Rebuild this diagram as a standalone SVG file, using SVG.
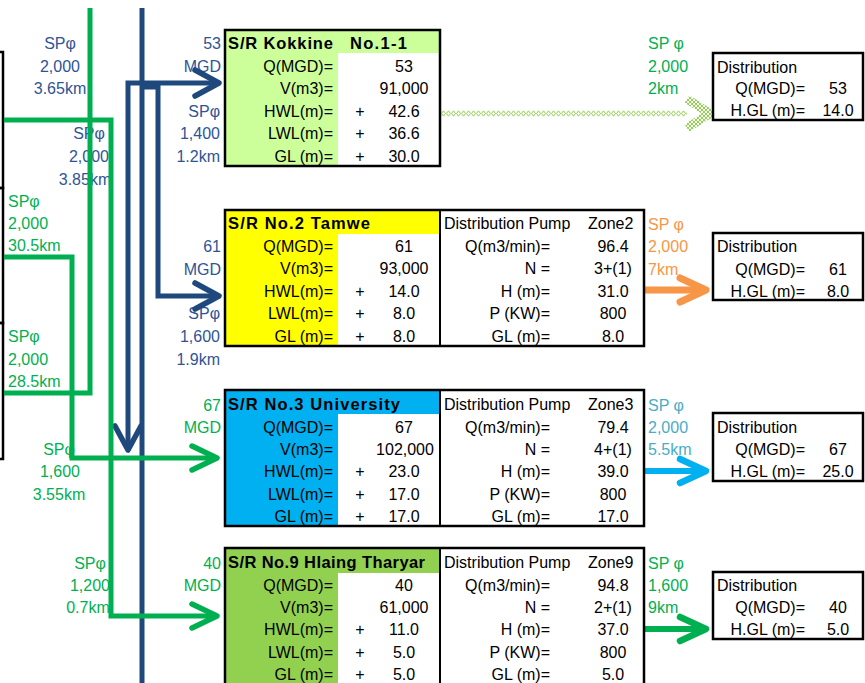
<svg xmlns="http://www.w3.org/2000/svg" width="865" height="683" viewBox="0 0 865 683">
<style>
text{font-family:"Liberation Sans",Arial,sans-serif;font-size:16px;fill:#000}
.e{text-anchor:end}.m{text-anchor:middle}
.h{font-weight:bold;font-size:16.5px}
.lb{fill:#2F5496}.lg{fill:#00B050}.lo{fill:#F79646}.lc{fill:#4BACC6}
.bd{fill:none;stroke:#000;stroke-width:2.5}
.dv{stroke:#000;stroke-width:2}
.pb{fill:none;stroke:#1F497D;stroke-width:5}
.pg{fill:none;stroke:#00B050;stroke-width:5}
</style>
<defs>
<marker id="mB" markerUnits="userSpaceOnUse" viewBox="-32 -20 40 40" markerWidth="40" markerHeight="40" refX="0" refY="0" orient="auto" overflow="visible"><path d="M-24,-13 L0,0 L-24,13" fill="none" stroke="#1F497D" stroke-width="5.5" stroke-linecap="round" stroke-linejoin="round"/></marker>
<marker id="mG" markerUnits="userSpaceOnUse" viewBox="-32 -20 40 40" markerWidth="40" markerHeight="40" refX="0" refY="0" orient="auto" overflow="visible"><path d="M-25,-12 L0,0 L-25,12" fill="none" stroke="#00B050" stroke-width="5.5" stroke-linecap="round" stroke-linejoin="round"/></marker>
<marker id="mO" markerUnits="userSpaceOnUse" viewBox="-32 -20 40 40" markerWidth="40" markerHeight="40" refX="0" refY="0" orient="auto" overflow="visible"><path d="M-26,-12 L0,0 L-26,12" fill="none" stroke="#F79646" stroke-width="7" stroke-linecap="round" stroke-linejoin="round"/></marker>
<marker id="mC" markerUnits="userSpaceOnUse" viewBox="-32 -20 40 40" markerWidth="40" markerHeight="40" refX="0" refY="0" orient="auto" overflow="visible"><path d="M-26,-12 L0,0 L-26,12" fill="none" stroke="#00B0F0" stroke-width="6.5" stroke-linecap="round" stroke-linejoin="round"/></marker>
<marker id="mG2" markerUnits="userSpaceOnUse" viewBox="-32 -20 40 40" markerWidth="40" markerHeight="40" refX="0" refY="0" orient="auto" overflow="visible"><path d="M-26,-12 L0,0 L-26,12" fill="none" stroke="#00B050" stroke-width="6.5" stroke-linecap="round" stroke-linejoin="round"/></marker>
<pattern id="chain" patternUnits="userSpaceOnUse" x="441" y="110" width="5" height="7"><path d="M0.5,3.5 L2.5,0.8 L4.5,3.5 L2.5,6.2 Z" fill="none" stroke="#92D050" stroke-width="1"/></pattern>
<pattern id="hatch" patternUnits="userSpaceOnUse" width="4" height="4"><path d="M0,0 L4,4 M4,0 L0,4" stroke="#92D050" stroke-width="1"/></pattern>
</defs>

<g id="left-boxes">
<rect x="-10" y="52" width="13" height="136" class="bd"/>
<rect x="-10" y="188" width="13" height="135" class="bd"/>
<rect x="-10" y="323" width="13" height="136" class="bd"/>
</g>

<g id="pipe-labels">
<text x="60" y="49" class="m lb">SPφ</text><text x="60" y="72" class="m lb">2,000</text><text x="60" y="94" class="m lb">3.65km</text>
<text x="89" y="139" class="m lb">SPφ</text><text x="89" y="162" class="m lb">2,000</text><text x="85" y="185" class="m lb">3.85km</text>
<text x="221" y="49" class="e lb">53</text><text x="221" y="72" class="e lb">MGD</text>
<text x="220" y="117" class="e lb">SPφ</text><text x="220" y="139" class="e lb">1,400</text><text x="220" y="162" class="e lb">1.2km</text>
<text x="221" y="252" class="e lb">61</text><text x="221" y="275" class="e lb">MGD</text>
<text x="220" y="319" class="e lb">SPφ</text><text x="220" y="342" class="e lb">1,600</text><text x="220" y="365" class="e lb">1.9km</text>
<text x="8" y="207" class="lg">SPφ</text><text x="8" y="229" class="lg">2,000</text><text x="8" y="251" class="lg">30.5km</text>
<text x="8" y="342" class="lg">SPφ</text><text x="8" y="365" class="lg">2,000</text><text x="8" y="387" class="lg">28.5km</text>
<text x="59" y="455" class="m lg">SPφ</text><text x="60" y="477" class="m lg">1,600</text><text x="59" y="500" class="m lg">3.55km</text>
<text x="90" y="569" class="m lg">SPφ</text><text x="90" y="591" class="m lg">1,200</text><text x="88" y="613" class="m lg">0.7km</text>
<text x="221" y="411" class="e lg">67</text><text x="221" y="433" class="e lg">MGD</text>
<text x="221" y="569" class="e lg">40</text><text x="221" y="591" class="e lg">MGD</text>
<text x="648" y="49" class="lg">SP φ</text><text x="648" y="72" class="lg">2,000</text><text x="648" y="94" class="lg">2km</text>
<text x="648" y="230" class="lo">SP φ</text><text x="648" y="252" class="lo">2,000</text><text x="648" y="275" class="lo">7km</text>
<text x="648" y="411" class="lc">SP φ</text><text x="648" y="433" class="lc">2,000</text><text x="648" y="455" class="lc">5.5km</text>
<text x="648" y="569" class="lg">SP φ</text><text x="648" y="591" class="lg">1,600</text><text x="648" y="613" class="lg">9km</text>
</g>

<g id="connectors">
<path class="pb" d="M142,8 V683"/>
<path class="pb" d="M142,83 H219" marker-end="url(#mB)"/>
<path class="pb" d="M142,83 H128 V450" marker-end="url(#mB)"/>
<path class="pb" d="M142,87 H158 V296 H219" marker-end="url(#mB)"/>
<path class="pg" d="M90,8 V393 H4"/>
<path class="pg" d="M4,120 H111 V616 H217" marker-end="url(#mG)"/>
<path class="pg" d="M4,257 H72 V458 H217" marker-end="url(#mG)"/>
<rect x="441" y="110" width="246" height="7" fill="url(#chain)"/>
<path d="M687,99 L710,113.5 L687,128" fill="none" stroke="url(#hatch)" stroke-width="9" stroke-linejoin="miter"/>
<path d="M645,290 H706" fill="none" stroke="#F79646" stroke-width="7" marker-end="url(#mO)"/>
<path d="M645,471 H706" fill="none" stroke="#00B0F0" stroke-width="6" marker-end="url(#mC)"/>
<path d="M645,629 H706" fill="none" stroke="#00B050" stroke-width="6" marker-end="url(#mG2)"/>
</g>

<g id="sr-kokkine">
<rect x="225" y="30" width="215" height="136" fill="#CCFF99"/>
<rect x="338" y="53" width="102" height="113" fill="#fff"/>
<rect x="225" y="30" width="215" height="136" class="bd"/>
<text x="228" y="49" class="h" textLength="105" lengthAdjust="spacing">S/R Kokkine</text>
<text x="350" y="49" class="h" textLength="57" lengthAdjust="spacing">No.1-1</text>
<text x="333" y="72" class="e">Q(MGD)=</text><text x="404" y="72" class="m">53</text>
<text x="333" y="94" class="e">V(m3)=</text><text x="404" y="94" class="m">91,000</text>
<text x="333" y="117" class="e">HWL(m)=</text><text x="360" y="117" class="m">+</text><text x="404" y="117" class="m">42.6</text>
<text x="333" y="139" class="e">LWL(m)=</text><text x="360" y="139" class="m">+</text><text x="404" y="139" class="m">36.6</text>
<text x="333" y="162" class="e">GL (m)=</text><text x="360" y="162" class="m">+</text><text x="404" y="162" class="m">30.0</text>
</g>

<g id="sr-tamwe">
<rect x="225" y="210" width="419" height="136" fill="#fff"/>
<rect x="225" y="210" width="215" height="24" fill="#FFFF00"/>
<rect x="225" y="234" width="113" height="112" fill="#FFFF00"/>
<line x1="440" y1="210" x2="440" y2="346" class="dv"/>
<rect x="225" y="210" width="419" height="136" class="bd"/>
<text x="228" y="229" class="h" textLength="142" lengthAdjust="spacing">S/R No.2 Tamwe</text>
<text x="333" y="252" class="e">Q(MGD)=</text><text x="404" y="252" class="m">61</text>
<text x="333" y="274" class="e">V(m3)=</text><text x="404" y="274" class="m">93,000</text>
<text x="333" y="297" class="e">HWL(m)=</text><text x="360" y="297" class="m">+</text><text x="404" y="297" class="m">14.0</text>
<text x="333" y="319" class="e">LWL(m)=</text><text x="360" y="319" class="m">+</text><text x="404" y="319" class="m">8.0</text>
<text x="333" y="342" class="e">GL (m)=</text><text x="360" y="342" class="m">+</text><text x="404" y="342" class="m">8.0</text>
<text x="444" y="229">Distribution Pump</text><text x="588" y="229">Zone2</text>
<text x="550" y="252" class="e">Q(m3/min)=</text><text x="613" y="252" class="m">96.4</text>
<text x="550" y="274" class="e">N =</text><text x="613" y="274" class="m">3+(1)</text>
<text x="550" y="297" class="e">H (m)=</text><text x="613" y="297" class="m">31.0</text>
<text x="550" y="319" class="e">P (KW)=</text><text x="613" y="319" class="m">800</text>
<text x="550" y="342" class="e">GL (m)=</text><text x="613" y="342" class="m">8.0</text>
</g>

<g id="sr-university">
<rect x="225" y="390" width="419" height="136" fill="#fff"/>
<rect x="225" y="390" width="215" height="24" fill="#00B0F0"/>
<rect x="225" y="414" width="113" height="112" fill="#00B0F0"/>
<line x1="440" y1="390" x2="440" y2="526" class="dv"/>
<rect x="225" y="390" width="419" height="136" class="bd"/>
<text x="228" y="410" class="h" textLength="172" lengthAdjust="spacing">S/R No.3 University</text>
<text x="333" y="433" class="e">Q(MGD)=</text><text x="404" y="433" class="m">67</text>
<text x="333" y="455" class="e">V(m3)=</text><text x="405" y="455" class="m">102,000</text>
<text x="333" y="477" class="e">HWL(m)=</text><text x="360" y="477" class="m">+</text><text x="404" y="477" class="m">23.0</text>
<text x="333" y="500" class="e">LWL(m)=</text><text x="360" y="500" class="m">+</text><text x="404" y="500" class="m">17.0</text>
<text x="333" y="522" class="e">GL (m)=</text><text x="360" y="522" class="m">+</text><text x="404" y="522" class="m">17.0</text>
<text x="444" y="410">Distribution Pump</text><text x="588" y="410">Zone3</text>
<text x="550" y="433" class="e">Q(m3/min)=</text><text x="613" y="433" class="m">79.4</text>
<text x="550" y="455" class="e">N =</text><text x="613" y="455" class="m">4+(1)</text>
<text x="550" y="477" class="e">H (m)=</text><text x="613" y="477" class="m">39.0</text>
<text x="550" y="500" class="e">P (KW)=</text><text x="613" y="500" class="m">800</text>
<text x="550" y="522" class="e">GL (m)=</text><text x="613" y="522" class="m">17.0</text>
</g>

<g id="sr-hlaing-tharyar">
<rect x="225" y="548" width="419" height="145" fill="#fff"/>
<rect x="225" y="548" width="215" height="25" fill="#92D050"/>
<rect x="225" y="573" width="113" height="120" fill="#92D050"/>
<line x1="440" y1="548" x2="440" y2="690" class="dv"/>
<rect x="225" y="548" width="419" height="145" class="bd"/>
<text x="228" y="568" class="h" textLength="197" lengthAdjust="spacing">S/R No.9 Hlaing Tharyar</text>
<text x="333" y="591" class="e">Q(MGD)=</text><text x="404" y="591" class="m">40</text>
<text x="333" y="613" class="e">V(m3)=</text><text x="404" y="613" class="m">61,000</text>
<text x="333" y="635" class="e">HWL(m)=</text><text x="360" y="635" class="m">+</text><text x="404" y="635" class="m">11.0</text>
<text x="333" y="658" class="e">LWL(m)=</text><text x="360" y="658" class="m">+</text><text x="404" y="658" class="m">5.0</text>
<text x="333" y="680" class="e">GL (m)=</text><text x="360" y="680" class="m">+</text><text x="404" y="680" class="m">5.0</text>
<text x="444" y="568">Distribution Pump</text><text x="588" y="568">Zone9</text>
<text x="550" y="591" class="e">Q(m3/min)=</text><text x="613" y="591" class="m">94.8</text>
<text x="550" y="613" class="e">N =</text><text x="613" y="613" class="m">2+(1)</text>
<text x="550" y="635" class="e">H (m)=</text><text x="613" y="635" class="m">37.0</text>
<text x="550" y="658" class="e">P (KW)=</text><text x="613" y="658" class="m">800</text>
<text x="550" y="680" class="e">GL (m)=</text><text x="613" y="680" class="m">5.0</text>
</g>

<g id="dist-1">
<rect x="713" y="53" width="150" height="67" class="bd" style="fill:#fff"/>
<text x="717" y="73">Distribution</text>
<text x="805" y="94" class="e">Q(MGD)=</text><text x="838" y="94" class="m">53</text>
<text x="805" y="116" class="e">H.GL (m)=</text><text x="838" y="116" class="m">14.0</text>
</g>
<g id="dist-2">
<rect x="713" y="233" width="150" height="67" class="bd" style="fill:#fff"/>
<text x="717" y="252">Distribution</text>
<text x="805" y="275" class="e">Q(MGD)=</text><text x="838" y="275" class="m">61</text>
<text x="805" y="297" class="e">H.GL (m)=</text><text x="838" y="297" class="m">8.0</text>
</g>
<g id="dist-3">
<rect x="713" y="413" width="150" height="68" class="bd" style="fill:#fff"/>
<text x="717" y="433">Distribution</text>
<text x="805" y="455" class="e">Q(MGD)=</text><text x="838" y="455" class="m">67</text>
<text x="805" y="477" class="e">H.GL (m)=</text><text x="838" y="477" class="m">25.0</text>
</g>
<g id="dist-4">
<rect x="713" y="572" width="150" height="67" class="bd" style="fill:#fff"/>
<text x="717" y="591">Distribution</text>
<text x="805" y="613" class="e">Q(MGD)=</text><text x="838" y="613" class="m">40</text>
<text x="805" y="635" class="e">H.GL (m)=</text><text x="838" y="635" class="m">5.0</text>
</g>
</svg>
